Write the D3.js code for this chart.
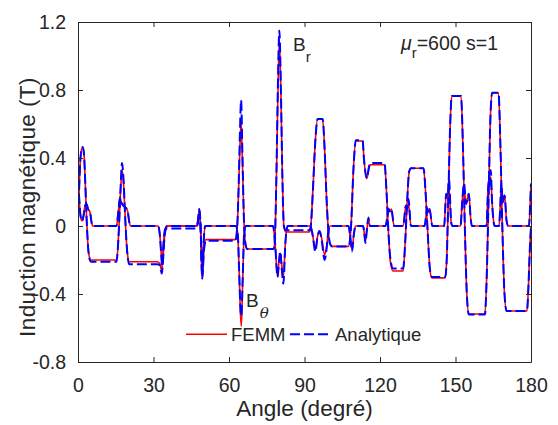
<!DOCTYPE html>
<html><head><meta charset="utf-8">
<script src="https://cdn.jsdelivr.net/npm/d3@7"></script>
<style>body{margin:0;background:#fff} text{font-family:"Liberation Sans",Arial,sans-serif;fill:#262626}</style>
</head><body><svg id="c" width="558" height="425"></svg>
<script>
// ---- data (angle in degrees, induction in T) ----
const brFEMM = [[0,0.05],[0.4,0.2],[0.9,0.38],[1.4,0.45],[1.9,0.46],[2.4,0.42],[2.9,0.25],[3.4,0.05],[3.9,-0.1],[4.5,-0.18],[5.2,-0.2],
[15.3,-0.2],[15.8,-0.14],[16.3,0.0],[16.9,0.2],[17.5,0.33],[18.1,0.25],[18.6,0.1],[19.2,-0.08],[19.8,-0.18],[20.4,-0.21],
[31.5,-0.21],[32.5,-0.22],[33.2,-0.26],[33.7,-0.2],[34.3,-0.08],[35.0,-0.01],[35.5,0],
[47.3,0],[47.8,0.05],[48.2,0.1],[48.7,0.0],[49.4,-0.31],[50.0,-0.15],[50.8,-0.08],
[62.5,-0.08],[63.2,-0.02],[63.8,0.2],[64.3,0.45],[64.8,0.61],[65.3,0.4],[65.9,0.05],[66.5,-0.1],[67.2,-0.135],
[77.8,-0.135],[78.3,-0.05],[78.8,0.25],[79.4,0.75],[80.0,1.1],[80.6,0.8],[81.2,0.3],[81.8,0.0],[82.5,-0.035],
[92.0,-0.035],[92.5,0.0],[93.3,0.2],[94.3,0.5],[95.2,0.63],[97.2,0.63],[98.0,0.45],[98.8,0.15],[99.6,-0.05],[100.3,-0.11],[101,-0.12],
[107.5,-0.12],[108.5,0.0],[109.5,0.35],[110.4,0.5],[113.1,0.5],[113.6,0.4],[114.8,0.28],[115.5,0.33],[116.1,0.36],
[121.8,0.36],[122.6,0.2],[123.4,-0.05],[124.2,-0.22],[125.2,-0.265],[129.2,-0.265],[130.0,-0.1],[130.8,0.15],[131.6,0.32],[132.3,0.34],
[137.3,0.34],[138.1,0.2],[139.0,-0.05],[139.8,-0.25],[140.6,-0.305],[145.9,-0.305],[146.5,-0.2],[147.2,0.2],[147.9,0.6],[148.5,0.765],
[152.2,0.765],[152.9,0.5],[153.7,0.0],[154.5,-0.4],[155.3,-0.518],[161.7,-0.518],[162.4,-0.3],[163.2,0.2],[163.9,0.65],[164.6,0.784],
[167.1,0.784],[167.8,0.5],[168.6,0.0],[169.4,-0.38],[170.3,-0.5],[178.4,-0.5],[179.0,-0.35],[179.5,-0.15],[180,0.0]];

const brAnalytique = [[0,0.05],[0.4,0.2],[0.9,0.38],[1.4,0.45],[1.9,0.465],[2.4,0.42],[2.9,0.25],[3.4,0.05],[3.9,-0.1],[4.5,-0.19],[5.2,-0.21],
[15.3,-0.21],[15.8,-0.14],[16.3,0.0],[16.9,0.22],[17.5,0.37],[18.1,0.27],[18.6,0.1],[19.2,-0.08],[19.8,-0.19],[20.4,-0.225],
[31.5,-0.225],[32.5,-0.23],[33.3,-0.28],[33.8,-0.2],[34.3,-0.08],[35.0,-0.01],[35.5,0],
[47.3,0],[47.8,0.05],[48.2,0.1],[48.7,0.0],[49.4,-0.31],[50.0,-0.15],[50.8,-0.087],
[62.5,-0.087],[63.2,-0.02],[63.8,0.22],[64.3,0.52],[64.8,0.74],[65.3,0.45],[65.9,0.05],[66.5,-0.1],[67.2,-0.135],
[77.8,-0.135],[78.3,-0.05],[78.8,0.27],[79.4,0.8],[80.0,1.15],[80.6,0.82],[81.2,0.3],[81.8,0.0],[82.5,-0.025],
[92.0,-0.025],[92.5,0.0],[93.3,0.2],[94.3,0.5],[95.2,0.63],[97.2,0.63],[98.0,0.45],[98.8,0.15],[99.6,-0.05],[100.3,-0.11],[101,-0.12],
[107.5,-0.12],[108.5,0.0],[109.5,0.35],[110.4,0.505],[113.1,0.505],[113.6,0.4],[114.8,0.28],[115.5,0.34],[116.1,0.37],
[121.8,0.37],[122.6,0.2],[123.4,-0.05],[124.2,-0.2],[125.2,-0.25],[129.2,-0.25],[130.0,-0.1],[130.8,0.15],[131.6,0.32],[132.3,0.34],
[137.3,0.34],[138.1,0.2],[139.0,-0.05],[139.8,-0.25],[140.6,-0.3],[145.9,-0.3],[146.5,-0.2],[147.2,0.2],[147.9,0.6],[148.5,0.765],
[152.2,0.765],[152.9,0.5],[153.7,0.0],[154.5,-0.4],[155.3,-0.52],[161.7,-0.52],[162.4,-0.3],[163.2,0.2],[163.9,0.65],[164.6,0.784],
[167.1,0.784],[167.8,0.5],[168.6,0.0],[169.4,-0.38],[170.3,-0.5],[178.4,-0.5],[179.0,-0.35],[179.5,-0.15],[180,0.0]];

const btFEMM = [[0,0.24],[0.5,0.15],[1.0,0.06],[1.6,0.03],[2.2,0.06],[2.8,0.12],[3.4,0.13],[4.0,0.1],[4.8,0.08],[5.3,0.03],[5.8,0],
[15.3,0],[16.0,0.08],[16.7,0.165],[17.2,0.14],[18.0,0.12],[18.8,0.11],[19.7,0.09],[20.3,0.03],[20.8,0],
[31.8,0],[32.5,-0.05],[33.0,-0.15],[33.4,-0.22],[34.0,-0.1],[34.6,-0.02],[35.3,0],
[47.3,0],[48.0,0.06],[48.3,0.09],[48.8,-0.05],[49.3,-0.29],[49.9,-0.1],[50.5,0],
[62.8,0],[63.5,-0.05],[64.0,-0.25],[64.5,-0.5],[64.9,-0.59],[65.4,-0.35],[66.0,-0.05],[66.6,0],
[77.5,0],[78.3,-0.1],[79.3,-0.3],[79.9,-0.2],[80.4,-0.16],[80.9,-0.22],[81.6,-0.3],[82.4,-0.1],[83.3,0],
[92.3,0],[93.2,-0.05],[94.3,-0.14],[95.2,-0.06],[96.0,-0.03],[96.8,-0.07],[98.0,-0.17],[98.8,-0.12],[99.5,-0.03],[100.2,0],
[107.5,0],[108.3,-0.08],[108.9,-0.14],[109.6,-0.05],[110.3,0],[113.3,0],[113.8,-0.05],[114.2,-0.09],[114.8,-0.02],[115.4,0.04],[116,0],
[122.2,0],[123.5,0.1],[124.0,0.085],[124.5,0.1],[125.6,0],
[129.2,0],[130.3,0.12],[130.8,0.1],[131.3,0.13],[132.3,0],
[137.7,0],[138.8,0.105],[139.2,0.08],[139.7,0.1],[140.8,0],
[145.5,0],[146.3,0.19],[146.9,0.17],[147.4,0.22],[148.3,0.02],[148.8,0],
[152.0,0],[152.7,0.15],[153.3,0.23],[154.2,0.13],[155.3,0.19],[156.0,0.05],[156.5,0],
[162.3,0],[162.9,0.2],[163.3,0.27],[163.6,0.24],[164.0,0.29],[164.5,0.15],[165.2,0.02],[165.6,0],
[167.3,0],[167.8,0.12],[168.2,0.22],[168.8,0.14],[169.5,0.18],[170.3,0.03],[171,0],
[179.2,0],[179.6,0.1],[180,0.24]];

const btAnalytique = [[0,0.27],[0.5,0.16],[1.0,0.06],[1.6,0.03],[2.2,0.06],[2.8,0.12],[3.4,0.13],[4.0,0.1],[4.8,0.08],[5.3,0.03],[5.8,0],
[15.3,0],[16.0,0.08],[16.7,0.17],[17.2,0.14],[18.0,0.12],[18.8,0.11],[19.7,0.09],[20.3,0.03],[20.8,0],
[31.8,0],[32.5,-0.05],[33.0,-0.15],[33.5,-0.24],[34.0,-0.1],[34.6,-0.02],[35.3,-0.015],
[47.0,-0.015],[48.0,0.06],[48.3,0.09],[48.8,-0.05],[49.3,-0.29],[49.9,-0.1],[50.5,0],
[62.8,0],[63.5,-0.05],[64.0,-0.25],[64.5,-0.47],[64.9,-0.53],[65.4,-0.33],[66.0,-0.05],[66.6,0],
[77.5,0],[78.3,-0.1],[79.3,-0.3],[79.9,-0.2],[80.4,-0.15],[80.9,-0.24],[81.6,-0.34],[82.4,-0.1],[83.3,0],
[92.3,0],[93.2,-0.05],[94.3,-0.15],[95.2,-0.06],[96.0,-0.03],[96.8,-0.08],[98.0,-0.2],[98.8,-0.13],[99.5,-0.03],[100.2,0],
[107.5,0],[108.3,-0.08],[108.9,-0.15],[109.6,-0.05],[110.3,0],[113.3,0],[113.8,-0.05],[114.2,-0.1],[114.8,-0.02],[115.4,0.05],[116,0],
[122.2,0],[123.5,0.1],[124.0,0.085],[124.5,0.1],[125.6,0],
[129.2,0],[130.3,0.12],[130.8,0.1],[131.3,0.16],[132.3,0],
[137.7,0],[138.8,0.105],[139.2,0.08],[139.7,0.1],[140.8,0],
[145.5,0],[146.3,0.19],[146.9,0.17],[147.4,0.275],[148.3,0.02],[148.8,0],
[152.0,0],[152.7,0.15],[153.4,0.25],[154.2,0.13],[155.3,0.19],[156.0,0.05],[156.5,0],
[162.3,0],[162.9,0.2],[163.3,0.27],[163.6,0.24],[164.0,0.33],[164.5,0.15],[165.2,0.02],[165.6,0],
[167.3,0],[167.8,0.12],[168.2,0.25],[168.8,0.14],[169.5,0.18],[170.3,0.03],[171,0],
[179.2,0],[179.6,0.1],[180,0.25]];

const xTicks = [0, 30, 60, 90, 120, 150, 180];
const yTicks = [-0.8, -0.4, 0, 0.4, 0.8, 1.2];
const yTickLabels = ["-0.8", "-0.4", "0", "0.4", "0.8", "1.2"];
const legendLabels = ["FEMM", "Analytique"];
const seriesColors = ["#ff0000", "#0000ff"];

// ---- layout ----
const L = 78, R = 531, T = 22, B = 362;
const svg = d3.select("#c");
const x = d3.scaleLinear().domain([0, 180]).range([L, R]);
const y = d3.scaleLinear().domain([-0.8, 1.2]).range([B, T]);

svg.append("rect").attr("x", 0).attr("y", 0).attr("width", 558).attr("height", 425).attr("fill", "#fff");

svg.append("defs").append("clipPath").attr("id", "clip")
  .append("rect").attr("x", L).attr("y", T).attr("width", R - L).attr("height", B - T);

const line = d3.line().x(d => x(d[0])).y(d => y(d[1])).curve(d3.curveMonotoneX);
const g = svg.append("g").attr("clip-path", "url(#clip)");

const dash = "10,4";
[brFEMM, btFEMM].forEach(s => g.append("path").attr("d", line(s))
  .attr("fill", "none").attr("stroke", seriesColors[0]).attr("stroke-width", 1.6));
[brAnalytique, btAnalytique].forEach(s => g.append("path").attr("d", line(s))
  .attr("fill", "none").attr("stroke", seriesColors[1]).attr("stroke-width", 2)
  .attr("stroke-dasharray", dash));

// ---- axes ----
const axCol = "#262626";
function styleAxis(sel) {
  sel.selectAll("path,line").attr("stroke", axCol).attr("stroke-width", 1);
  sel.selectAll("text").attr("fill", axCol).style("font-size", "19.5px")
     .style("font-family", '"Liberation Sans", Arial, sans-serif');
}
svg.append("g").attr("transform", `translate(0,${B})`)
  .call(d3.axisBottom(x).tickValues(xTicks).tickFormat(d3.format("d")).tickSizeInner(-5).tickSizeOuter(0).tickPadding(16))
  .call(styleAxis);
svg.append("g").attr("transform", `translate(0,${T})`)
  .call(d3.axisTop(x).tickValues(xTicks).tickFormat("").tickSizeInner(-5).tickSizeOuter(0))
  .call(styleAxis);
svg.append("g").attr("transform", `translate(${L},0)`)
  .call(d3.axisLeft(y).tickValues(yTicks).tickFormat((d, i) => yTickLabels[i]).tickSizeInner(-5).tickSizeOuter(0).tickPadding(12))
  .call(styleAxis);
svg.append("g").attr("transform", `translate(${R},0)`)
  .call(d3.axisRight(y).tickValues(yTicks).tickFormat("").tickSizeInner(-5).tickSizeOuter(0))
  .call(styleAxis);

// ---- axis labels ----
svg.append("text").attr("x", (L + R) / 2).attr("y", 416).attr("text-anchor", "middle")
  .style("font-size", "22.5px").text("Angle (degré)");
svg.append("text").attr("transform", "translate(34.5,207) rotate(-90)").attr("text-anchor", "middle")
  .style("font-size", "22.5px").style("letter-spacing", "0.4px").text("Induction magnétique (T)");

// ---- annotations ----
const br = svg.append("text").attr("x", 293).attr("y", 50.5).style("font-size", "19px");
br.append("tspan").text("B");
br.append("tspan").attr("dy", 11).style("font-size", "15px").text("r");

const bt = svg.append("text").attr("x", 246).attr("y", 306.5).style("font-size", "19px");
bt.append("tspan").text("B");
bt.append("tspan").attr("dy", 11).attr("dx", 1).style("font-size", "15px").style("font-style", "italic")
  .style("font-family", '"DejaVu Serif", serif').text("θ");

const mu = svg.append("text").attr("x", 401).attr("y", 50).style("font-size", "19.5px");
mu.append("tspan").style("font-style", "italic").text("μ");
mu.append("tspan").attr("dy", 8).style("font-size", "15px").text("r");
mu.append("tspan").attr("dy", -8).text("=600 s=1");

// ---- legend ----
const lg = svg.append("g");
lg.append("line").attr("x1", 186).attr("x2", 227).attr("y1", 334.3).attr("y2", 334.3)
  .attr("stroke", seriesColors[0]).attr("stroke-width", 1.6);
lg.append("text").attr("x", 231).attr("y", 341).style("font-size", "18.5px").text(legendLabels[0]);
lg.append("line").attr("x1", 290).attr("x2", 332).attr("y1", 334.3).attr("y2", 334.3)
  .attr("stroke", seriesColors[1]).attr("stroke-width", 2).attr("stroke-dasharray", dash);
lg.append("text").attr("x", 335).attr("y", 341).style("font-size", "18.5px").text(legendLabels[1]);
</script></body></html>
